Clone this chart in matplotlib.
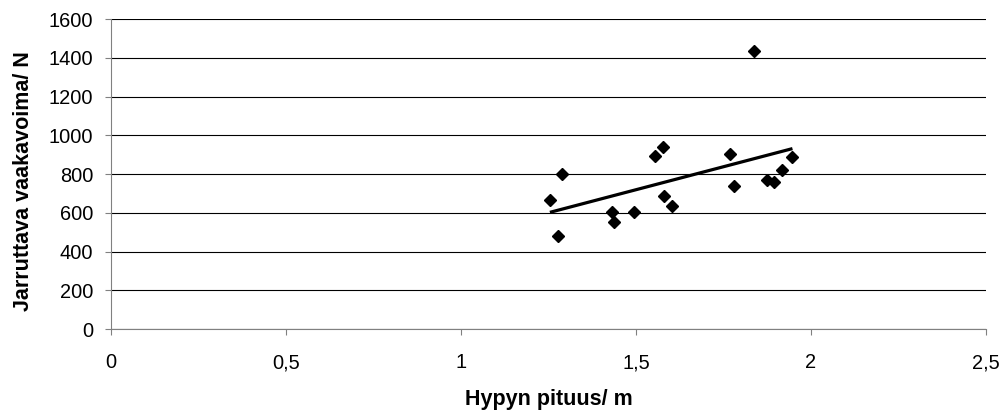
import numpy as np
import matplotlib.pyplot as plt

plt.rcParams['font.family'] = ['Liberation Sans', 'DejaVu Sans']

# hypyn pituus (m) ja jarruttava vaakavoima (N)
pituus = [1.254, 1.288, 1.278, 1.430, 1.437, 1.494, 1.554, 1.578, 1.580,
          1.604, 1.769, 1.780, 1.838, 1.873, 1.895, 1.917, 1.947]
voima = [667, 800, 480, 605, 552, 605, 895, 938, 688,
         637, 906, 740, 1437, 772, 757, 821, 886]

x_ticks = [0, 0.5, 1, 1.5, 2, 2.5]
x_ticklabels = ['0', '0,5', '1', '1,5', '2', '2,5']
y_ticks = list(range(0, 1601, 200))

x = np.array(pituus)
y = np.array(voima)
k, b = np.polyfit(x, y, 1)
xs = np.array([x.min(), x.max()])

fig = plt.figure(figsize=(10, 4.16), dpi=100)
ax = fig.add_axes([0.111, 0.209, 0.875, 0.745])

for t in y_ticks:
    ax.axhline(t, color='black', lw=0.8, zorder=1)

# lineaarinen trendiviiva
ax.plot(xs, k * xs + b, color='black', lw=2.3, zorder=2, solid_capstyle='butt')
ax.plot(x, y, 'D', color='black', markersize=6.2, zorder=3)

ax.set_xlim(0, 2.5)
ax.set_ylim(0, 1600)
ax.set_xticks(x_ticks)
ax.set_xticklabels(x_ticklabels)
ax.set_yticks(y_ticks)

for s in ['top', 'right']:
    ax.spines[s].set_visible(False)
for s in ['left', 'bottom']:
    ax.spines[s].set_color('#808080')
    ax.spines[s].set_linewidth(0.8)

ax.tick_params(axis='both', direction='out', length=4.3, width=0.8,
               color='#808080', labelsize=14.4)
ax.tick_params(axis='y', pad=8.5)
ax.tick_params(axis='x', pad=13)

ax.set_xlabel('Hypyn pituus/ m', fontsize=15.5, fontweight='bold', labelpad=12)
ax.set_ylabel('Jarruttava vaakavoima/ N', fontsize=15.5, fontweight='bold')
ax.yaxis.set_label_coords(-0.088, 0.479)

fig.savefig('out.png', dpi=100)
